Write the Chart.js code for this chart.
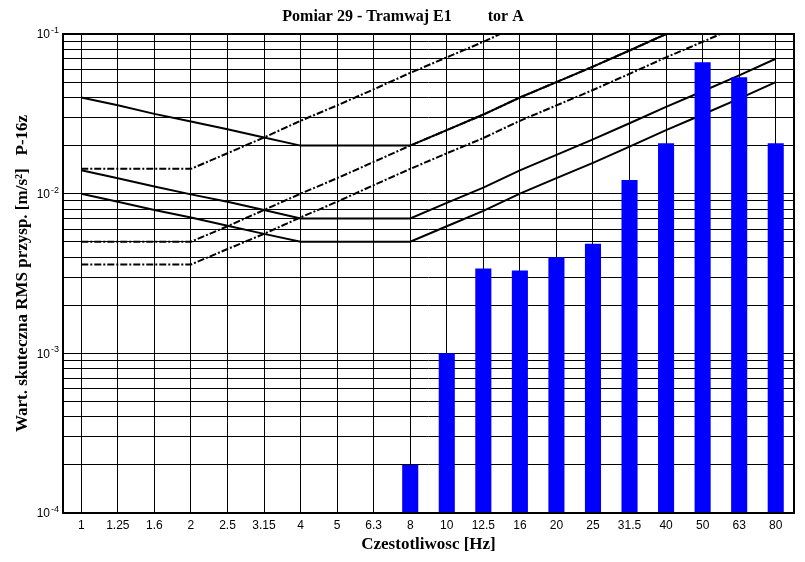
<!DOCTYPE html>
<html>
<head>
<meta charset="utf-8">
<script src="https://cdn.jsdelivr.net/npm/chart.js@4"></script>
<style>
    body { margin: 0; background: #fff; }
    canvas { display: block; }
</style>
</head>
<body>
<canvas id="chart" width="805" height="562"></canvas>
<script>
// Pomiar 29 - tercjowe wartosci RMS przyspieszenia
const freqLabels = ['1', '1.25', '1.6', '2', '2.5', '3.15', '4', '5', '6.3', '8',
    '10', '12.5', '16', '20', '25', '31.5', '40', '50', '63', '80'];

const rmsValues = [null, null, null, null, null, null, null, null, null, 2.0e-4,
    1.0e-3, 3.4e-3, 3.3e-3, 4.0e-3, 4.85e-3, 1.22e-2, 2.07e-2, 6.65e-2, 5.35e-2, 2.07e-2];

// krzywe dla osi z (linie ciagle)
const zBase = [0.01, 0.0089, 0.0079, 0.0071, 0.0063, 0.0056, 0.005, 0.005, 0.005, 0.005,
    0.00625, 0.0078, 0.01, 0.0125, 0.0156, 0.0197, 0.025, 0.0313, 0.0394, 0.05];
const z14 = [0.014, 0.0125, 0.0111, 0.0099, 0.0089, 0.0079, 0.007, 0.007, 0.007, 0.007,
    0.00875, 0.0109, 0.014, 0.0175, 0.0219, 0.0276, 0.035, 0.0438, 0.0551, 0.07];
const z4 = [0.04, 0.0358, 0.0316, 0.0283, 0.0253, 0.0225, 0.02, 0.02, 0.02, 0.02,
    0.025, 0.0313, 0.04, 0.05, 0.0625, 0.0788, 0.1, 0.125, 0.158, 0.2];

// krzywe dla osi x-y (linie kreska-kropka)
const xyBase = [0.0036, 0.0036, 0.0036, 0.0036, 0.0045, 0.0056, 0.0071, 0.0089, 0.0113, 0.0143,
    0.0179, 0.0223, 0.0286, 0.0357, 0.0446, 0.0563, 0.0714, 0.0893, 0.1125, 0.143];
const xy14 = [0.005, 0.005, 0.005, 0.005, 0.00625, 0.0079, 0.01, 0.0125, 0.0158, 0.02,
    0.025, 0.0313, 0.04, 0.05, 0.0625, 0.0788, 0.1, 0.125, 0.158, 0.2];
const xy4 = [0.0143, 0.0143, 0.0143, 0.0143, 0.0179, 0.0225, 0.0286, 0.0357, 0.045, 0.0571,
    0.0714, 0.0893, 0.114, 0.143, 0.179, 0.225, 0.286, 0.357, 0.45, 0.571];

const yMin = 1e-4;
const yMax = 1e-1;

function mantissa(v) {
    return v / Math.pow(10, Math.floor(Math.log10(v) + 1e-9));
}

function solidLine(data) {
    return {
        type: 'line', data, borderColor: '#000', borderWidth: 2,
        pointRadius: 0, fill: false, tension: 0, order: 1
    };
}

function dashDotLine(data) {
    return {
        type: 'line', data, borderColor: '#000', borderWidth: 2,
        borderDash: [7, 2, 2, 2], pointRadius: 0, fill: false, tension: 0, order: 1
    };
}

// ramka wokol wykresu
const framePlugin = {
    id: 'frame',
    afterDraw(chart) {
        const { ctx, chartArea: a } = chart;
        ctx.save();
        ctx.strokeStyle = '#000';
        ctx.lineWidth = 2;
        ctx.strokeRect(a.left, a.top, a.right - a.left, a.bottom - a.top);
        ctx.restore();
    }
};

// etykiety osi y w postaci 10 z wykladnikiem w indeksie gornym
const powerLabelsPlugin = {
    id: 'powerLabels',
    afterDraw(chart) {
        const { ctx, chartArea: a } = chart;
        const scale = chart.scales.y;
        ctx.save();
        ctx.fillStyle = '#000';
        scale.ticks.forEach(t => {
            if (Math.abs(mantissa(t.value) - 1) > 1e-6) return;
            const y = scale.getPixelForValue(t.value);
            const exp = String(Math.round(Math.log10(t.value)));
            ctx.font = '12px "Liberation Sans", Arial, sans-serif';
            ctx.textAlign = 'right';
            ctx.textBaseline = 'middle';
            ctx.fillText('10', a.left - 13, y + 1);
            ctx.font = '9px "Liberation Sans", Arial, sans-serif';
            ctx.textAlign = 'left';
            ctx.textBaseline = 'alphabetic';
            ctx.fillText(exp, a.left - 12, y - 1);
        });
        ctx.restore();
    }
};

new Chart(document.getElementById('chart'), {
    type: 'bar',
    data: {
        labels: freqLabels,
        datasets: [
            {
                type: 'bar', data: rmsValues, backgroundColor: '#0000FF',
                categoryPercentage: 1, barPercentage: 0.44, order: 0
            },
            solidLine(zBase),
            solidLine(z14),
            solidLine(z4),
            dashDotLine(xyBase),
            dashDotLine(xy14),
            dashDotLine(xy4)
        ]
    },
    options: {
        responsive: false,
        animation: false,
        layout: { padding: { left: 12, right: 11, top: 0, bottom: 0 } },
        plugins: {
            legend: { display: false },
            tooltip: { enabled: false },
            title: {
                display: true,
                text: 'Pomiar 29 - Tramwaj E1         tor A',
                color: '#000',
                font: { family: '"Liberation Serif", "Times New Roman", serif', size: 16, weight: 'bold' },
                padding: { top: 7, bottom: 7.8 }
            }
        },
        scales: {
            x: {
                offset: true,
                grid: { offset: false, color: '#000', lineWidth: 1, drawTicks: false },
                border: { display: false },
                ticks: {
                    color: '#000', padding: 5, autoSkip: false, maxRotation: 0,
                    font: { family: '"Liberation Sans Narrow", "Arial Narrow", "Liberation Sans", sans-serif', size: 12 }
                },
                title: {
                    display: true,
                    text: 'Czestotliwosc [Hz]',
                    color: '#000',
                    font: { family: '"Liberation Serif", "Times New Roman", serif', size: 17, weight: 'bold' },
                    padding: { top: 0, bottom: 7 }
                },
                afterFit(scale) { scale.height = 49; }
            },
            y: {
                type: 'logarithmic',
                min: yMin,
                max: yMax,
                grid: { color: '#000', lineWidth: 1, drawTicks: false },
                border: { display: false },
                afterBuildTicks(scale) {
                    scale.ticks = scale.ticks.filter(t => {
                        const m = mantissa(t.value);
                        return Math.abs(m - Math.round(m)) < 1e-6;
                    });
                },
                ticks: {
                    autoSkip: false,
                    callback: () => ''
                },
                title: {
                    display: true,
                    text: 'Wart. skuteczna RMS przysp. [m/s\u00B2]   P-16z',
                    color: '#000',
                    font: { family: '"Liberation Serif", "Times New Roman", serif', size: 17, weight: 'bold' },
                    padding: { top: 0, bottom: 0 }
                },
                afterFit(scale) { scale.width = 51; }
            }
        }
    },
    plugins: [framePlugin, powerLabelsPlugin]
});
</script>
</body>
</html>
